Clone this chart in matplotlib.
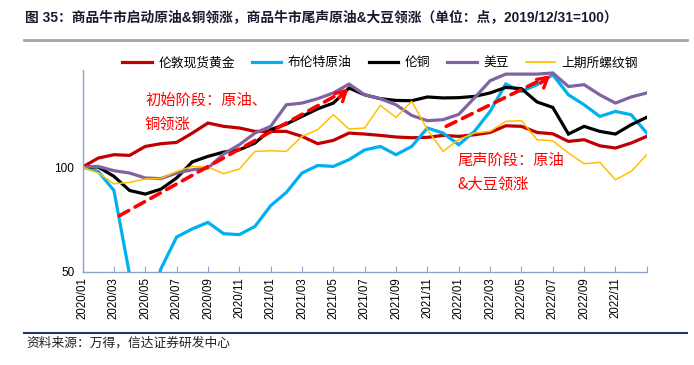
import matplotlib.pyplot as plt
import numpy as np
import pandas as pd
from matplotlib.ticker import NullLocator
from matplotlib.lines import Line2D

plt.rcParams['font.family'] = ['Liberation Sans', 'Noto Sans CJK SC', 'DejaVu Sans']

months = pd.date_range('2020-01-01', periods=37, freq='MS').strftime('%Y/%m').tolist()

gold = [100, 106.1, 108.5, 108.0, 114.6, 116.7, 117.7, 125.2, 133.8, 130.9, 129.5, 126.6,
        126.6, 126.6, 122.5, 116.7, 119.3, 125.2, 124.4, 123.3, 122.0, 121.4, 121.7, 123.3,
        122.5, 123.8, 125.7, 131.4, 130.9, 125.7, 124.6, 118.5, 119.8, 115.1, 113.4, 117.2, 122.5]
brent = [100, 97.1, 85.6, 49, 36, 51, 62.9, 66.4, 69.3, 64.3, 63.9, 67.5,
         77.4, 84.5, 96.1, 101, 100.4, 105, 112, 114.6, 108.5, 114.6, 129.5, 125.2,
         115.9, 126.6, 144.5, 173.2, 165, 172.5, 184.3, 161.3, 151, 139.8, 144.5, 141.4, 125.2]
copper = [100, 100, 94, 85.6, 83.6, 86.4, 93, 103.5, 107.3, 110.4, 112.1, 117.2,
          128.1, 132.9, 139.8, 147, 152.7, 168.7, 161.3, 157.2, 155.4, 155.1, 159, 158,
          158.3, 159.6, 163.3, 169.4, 168, 153.8, 148.4, 124.4, 130.9, 126.6, 124.4, 132.3, 139]
soybean = [100, 100.4, 97.6, 96.1, 93, 92.6, 96.1, 98.2, 99.3, 109, 115.9, 125.2,
           130.9, 151, 152.7, 157.2, 163.3, 173.2, 161.3, 157.2, 151, 140.7, 135.9, 136.8,
           141.7, 158, 177, 185, 185, 185, 186.4, 170.4, 172.5, 161.3, 152.7, 159, 163.3]
rebar = [100, 96.1, 89.5, 90.3, 92.4, 92.7, 97.1, 100.4, 100, 95.7, 98.7, 110.9,
         111.4, 110.9, 122.5, 128.1, 141.4, 128.6, 129.5, 150.3, 138.9, 154.5, 128.1, 110.9,
         120, 125.2, 126.6, 135.3, 135.9, 119.8, 119, 109.7, 102.2, 103.1, 91.9, 97.1, 108.5]

series = [
    ('伦敦现货黄金', gold, '#C00000', 2.3),
    ('布伦特原油', brent, '#00B0F0', 2.3),
    ('伦铜', copper, '#000000', 2.3),
    ('美豆', soybean, '#8064A2', 2.3),
    ('上期所螺纹钢', rebar, '#FFC000', 1.1),
]

fig = plt.figure(figsize=(6.94, 3.65), dpi=100)
ax = fig.add_axes([0.119, 0.2556, 0.813, 0.5524])

x = np.arange(len(months))
for name, vals, color, lw in series:
    ax.plot(x, vals, color=color, lw=lw, label=name, solid_joinstyle='miter')

ax.set_yscale('log', base=2)
ax.set_ylim(50, 190)
ax.set_xlim(0, 36)
ax.set_yticks([50, 100])
ax.set_yticklabels(['50', '100'])
ax.yaxis.set_minor_locator(NullLocator())
ax.set_xticks(x[::2])
ax.set_xticklabels([m if i < 36 else '' for i, m in zip(x[::2], months[::2])], rotation=90)

spine_col = '#8FA2C8'
for s in ['top', 'right']:
    ax.spines[s].set_visible(False)
for s in ['left', 'bottom']:
    ax.spines[s].set_color(spine_col)
    ax.spines[s].set_linewidth(1.0)
ax.tick_params(axis='x', direction='in', length=4, color=spine_col, labelsize=8.3, pad=4)
ax.tick_params(axis='y', length=0, labelsize=8.5, pad=6)

# phase arrows
red = '#FF0000'
for (x0, y0), (x1, y1) in [((2.34, 72.4), (16.96, 168)), ((23.2, 130.9), (29.84, 183.4))]:
    ax.annotate('', xy=(x1, y1), xytext=(x0, y0),
                arrowprops=dict(arrowstyle='-', color=red, lw=2.6, ls=(0, (3, 2)),
                                shrinkA=0, shrinkB=4))
    ax.annotate('', xy=(x1, y1), xytext=(x1 - 0.6 * (x1 - x0) / abs(x1 - x0) * 1.0,
                                          y1 * (y0 / y1) ** (1.0 / max(abs(x1 - x0), 1))),
                arrowprops=dict(arrowstyle='->,head_length=0.7,head_width=0.4',
                                color=red, lw=2.4, shrinkA=0, shrinkB=0))

ax.text(3.98, 164.6, '初始阶段：原油、\n铜领涨', color=red, fontsize=11, ha='left', va='top',
        linespacing=1.5, family=['Noto Sans CJK SC'])
ax.text(23.9, 110.7, '尾声阶段：原油\n&大豆领涨', color=red, fontsize=11, ha='left', va='top',
        linespacing=1.5, family=['Noto Sans CJK SC'])

handles = [Line2D([0], [0], color=c, lw=lw if lw > 2 else 1.3) for _, _, c, lw in series]
fig.legend(handles, [s[0] for s in series], loc='center', bbox_to_anchor=(0.548, 0.827),
           ncol=5, frameon=False, fontsize=9.2, handlelength=2.3, handletextpad=0.5,
           columnspacing=1.35)

fig.text(0.036, 0.953, '图 35：商品牛市启动原油&铜领涨，商品牛市尾声原油&大豆领涨（单位：点，2019/12/31=100）',
         fontsize=9.9, fontweight='bold', color='#1a1a2e', ha='left', va='center')
fig.add_artist(Line2D([0.035, 0.99], [0.89, 0.89], color='#A6A6A6', lw=2))
fig.add_artist(Line2D([0.035, 0.99], [0.088, 0.088], color='#1F3864', lw=1.5))
fig.text(0.038, 0.06, '资料来源：万得，信达证券研发中心', fontsize=9.2, color='#222222',
         ha='left', va='center', style='italic')

fig.savefig('out.png', dpi=100)
